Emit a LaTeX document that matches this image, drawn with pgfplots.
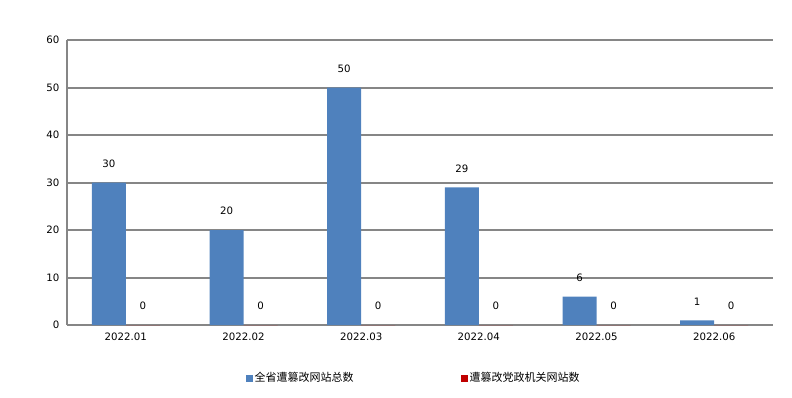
\documentclass[border=0pt]{standalone}
\usepackage{pgfplots}
\pgfplotsset{compat=1.18}
\usepackage{fontspec}
\setmainfont{DejaVu Sans}
\newfontfamily\cjk{Noto Sans CJK SC}
\definecolor{barblue}{HTML}{4F81BD}
\definecolor{barred}{HTML}{C00000}
\definecolor{gridgray}{HTML}{868686}
\begin{document}
\begin{tikzpicture}
\path[use as bounding box] (-67pt,-72pt) rectangle (725pt,325pt);
\begin{axis}[
  at={(0,0)}, anchor=south west,
  scale only axis, width=706pt, height=285pt,
  ybar=0pt, bar width=34pt,
  xmin=-0.5, xmax=5.5, ymin=0, ymax=60,
  xtick=data,
  xticklabels={2022.01,2022.02,2022.03,2022.04,2022.05,2022.06},
  ytick={0,10,...,60},
  axis lines*=left,
  axis line style={-, draw=gridgray, line width=2pt},
  ymajorgrids, grid style={draw=gridgray, line width=2pt},
  major tick length=0pt,
  tick label style={font=\fontsize{10.2}{12}\selectfont, text=black},
  /pgf/number format/assume math mode=true,
  xticklabel style={yshift=-4pt},
  yticklabel style={xshift=-4pt},
  nodes near coords,
  nodes near coords style={font=\fontsize{10.2}{12}\selectfont, text=black, anchor=south, yshift=11.5pt},
  legend style={at={(0.491,-0.186)}, anchor=center, draw=none, fill=none,
    font=\cjk\fontsize{11}{13}\selectfont, legend columns=2,
    /tikz/every even column/.append style={column sep=105pt}},
  legend image code/.code={\fill[#1] (0pt,-3.5pt) rectangle (7pt,3.5pt);},
]
\addplot[fill=barblue, draw=none] coordinates {(0,30) (1,20) (2,50) (3,29) (4,6) (5,1)};
\addplot[fill=barred, draw=none] coordinates {(0,0) (1,0) (2,0) (3,0) (4,0) (5,0)};
\legend{全省遭篡改网站总数, 遭篡改党政机关网站数}
\end{axis}
\end{tikzpicture}
\end{document}
